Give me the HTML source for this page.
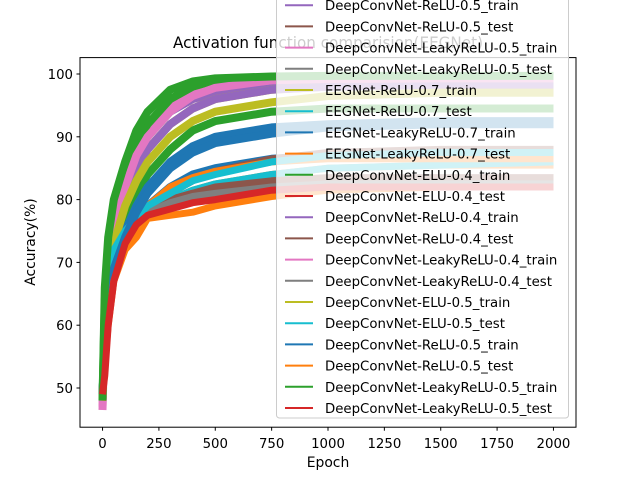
<!DOCTYPE html>
<html><head><meta charset="utf-8"><style>
html,body{margin:0;padding:0;background:#fff;}
svg{display:block;font-family:"DejaVu Sans","Liberation Sans",sans-serif;}
</style></head><body>
<svg id="chart" width="640" height="480" viewBox="0 0 640 480" xmlns="http://www.w3.org/2000/svg">
<defs><clipPath id="plotclip"><rect x="80" y="57.6" width="496" height="369.6"/></clipPath></defs>
<rect x="0" y="0" width="640" height="480" fill="#fff"/>
<text x="328" y="48" font-size="16" text-anchor="middle" textLength="310" lengthAdjust="spacingAndGlyphs">Activation function comparision(EEGNet)</text>
<g id="series" clip-path="url(#plotclip)"></g>
<rect x="80" y="57.6" width="496" height="369.6" fill="none" stroke="#000" stroke-width="1"/>
<g id="xaxis"></g>
<g id="yaxis"></g>
<text x="328" y="467" font-size="13.9" text-anchor="middle">Epoch</text>
<text x="0" y="0" font-size="13.9" text-anchor="middle" transform="translate(35,242) rotate(-90)">Accuracy(%)</text>
<g id="legend"></g>
</svg>
<script>
const epochs = [0,10,25,50,100,150,200,300,400,500,750,1000,1500,2000];
const seriesNames = ["EEGNet-ELU-0.7_train","EEGNet-ELU-0.7_test","EEGNet-ELU-0.5_train","EEGNet-ELU-0.5_test",
"DeepConvNet-ReLU-0.5_train","DeepConvNet-ReLU-0.5_test","DeepConvNet-LeakyReLU-0.5_train","DeepConvNet-LeakyReLU-0.5_test",
"EEGNet-ReLU-0.7_train","EEGNet-ReLU-0.7_test","EEGNet-LeakyReLU-0.7_train","EEGNet-LeakyReLU-0.7_test",
"DeepConvNet-ELU-0.4_train","DeepConvNet-ELU-0.4_test","DeepConvNet-ReLU-0.4_train","DeepConvNet-ReLU-0.4_test",
"DeepConvNet-LeakyReLU-0.4_train","DeepConvNet-LeakyReLU-0.4_test","DeepConvNet-ELU-0.5_train","DeepConvNet-ELU-0.5_test",
"DeepConvNet-ReLU-0.5_train","DeepConvNet-ReLU-0.5_test","DeepConvNet-LeakyReLU-0.5_train","DeepConvNet-LeakyReLU-0.5_test"];
const s0 = [49,58,66,70,74,77,79,82,84,85,86.5,87,87.5,87.5];
const s1 = [49,56,62,68,73,75,78,80,81.5,82.5,84,85,85.5,85.5];
const s2 = [48,60,67,72,77,81,84,88,91,92.5,94,94.5,94.5,94.5];
const s3 = [50,56,63,68,73,76,78,79.5,80.5,81,82,82.5,82.5,82.5];
const s4 = [48,60,70,76,82,87,90,94,96,97,98.5,99,99.1,99.1];
const s5 = [50,58,66,70,74,77,79,81,83,84.5,86.5,87.5,88,88];
const s6 = [47,62,70,76,83,88,91,95,97,98,99,99.3,99.4,99.4];
const s7 = [50,58,65,69,74,77,78.5,80,81,81.5,82.5,83,83,83];
const s8 = [48,61,70,75,81,85,88,92,94.5,96,97.5,98,98.2,98.2];
const s9 = [50,62,68,71,74,76,78,80,81.5,82.5,84,85,85.5,86];
const s10 = [49,58,65,70,75,79,82,86,88.5,90,91.5,92,92.5,92.5];
const s11 = [50,57,62,68,73,76,79,82,83.5,84.5,86,86.5,86.5,86.5];
const s12 = [48,64,72,77,84,89,92,96,98,99,99.5,99.6,99.6,99.6];
const s13 = [50,55,62,68,74,77,79,80,81,81.5,82.5,83,83,83];
const s14 = [48,59,68,74,80,85,88,92,94.5,96,97.5,98,98.3,98.3];
const s15 = [50,58,65,69,73,76,78,80,81,82,83,83.5,83.5,83.5];
const s16 = [46.5,60,69,75,82,87,90,94,96.5,97.8,99,99.2,99.3,99.3];
const s17 = [50,57,64,68,73,76,78,79.5,80.5,81,82,82.5,82.5,82.5];
const s18 = [48,60,68,73,79,83,86,90,92.5,94,95.5,96.5,97,97];
const s19 = [50,63,69,72,75,77,79,81,83,84,86,87,87.5,87.5];
const s20 = [49,57,64,69,74,78,81,85,87.5,89,90.5,91.5,92,92];
const s21 = [48,54,60,67,72,74,77,77.5,78,79,80.5,81.5,82,82];
const s22 = [48,66,74,80,86,91,94,97.5,98.8,99.3,99.6,99.7,99.7,99.7];
const s23 = [49,52,60,67,73,76,77.5,78.5,79.5,80,81.5,82,82,82];
const seriesValues = [s0,s1,s2,s3,s4,s5,s6,s7,s8,s9,s10,s11,s12,s13,s14,s15,s16,s17,s18,s19,s20,s21,s22,s23];
const xTicks = [0,250,500,750,1000,1250,1500,1750,2000];
const yTicks = [50,60,70,80,90,100];

const colors = ["#1f77b4","#ff7f0e","#2ca02c","#d62728","#9467bd","#8c564b","#e377c2","#7f7f7f","#bcbd22","#17becf"];
const NS = "http://www.w3.org/2000/svg";
function xs(e){ return 80 + 496*(e+100)/2200; }
function ys(v){ return 388 - (v-50)*6.28; }

const sg = document.getElementById('series');
seriesValues.forEach((vals, i) => {
  const p = document.createElementNS(NS,'polyline');
  p.setAttribute('points', vals.map((v,j)=>xs(epochs[j]).toFixed(1)+','+ys(v).toFixed(1)).join(' '));
  p.setAttribute('fill','none');
  p.setAttribute('stroke', colors[i%10]);
  p.setAttribute('stroke-width', seriesNames[i].endsWith('train') ? 8 : 7);
  p.setAttribute('stroke-linejoin','round');
  
  
  sg.appendChild(p);
});

const xg = document.getElementById('xaxis');
xTicks.forEach(t => {
  const l = document.createElementNS(NS,'line');
  l.setAttribute('x1', xs(t)); l.setAttribute('x2', xs(t));
  l.setAttribute('y1', 427.2); l.setAttribute('y2', 430.7);
  l.setAttribute('stroke','#000');
  
  
  xg.appendChild(l);
  const tx = document.createElementNS(NS,'text');
  tx.setAttribute('x', xs(t)); tx.setAttribute('y', 448);
  tx.setAttribute('font-size','13.3'); tx.setAttribute('text-anchor','middle');
  tx.textContent = t;
  
  
  xg.appendChild(tx);
});
const yg = document.getElementById('yaxis');
yTicks.forEach(t => {
  const l = document.createElementNS(NS,'line');
  l.setAttribute('x1', 76.5); l.setAttribute('x2', 80);
  l.setAttribute('y1', ys(t)); l.setAttribute('y2', ys(t));
  l.setAttribute('stroke','#000');
  
  
  yg.appendChild(l);
  const tx = document.createElementNS(NS,'text');
  tx.setAttribute('x', 73); tx.setAttribute('y', ys(t)+5);
  tx.setAttribute('font-size','13.3'); tx.setAttribute('text-anchor','end');
  tx.textContent = t;
  
  
  yg.appendChild(tx);
});

const lg = document.getElementById('legend');
const rowH = 21.2, lastY = 408, n = seriesNames.length;
const firstY = lastY - rowH*(n-1);
const box = document.createElementNS(NS,'rect');
box.setAttribute('x', 276.5); box.setAttribute('y', firstY - 14);
box.setAttribute('width', 292); box.setAttribute('height', lastY + 10 - (firstY - 14));
box.setAttribute('rx', 3);
box.setAttribute('fill','rgba(255,255,255,0.8)'); box.setAttribute('stroke','#cccccc');


lg.appendChild(box);
seriesNames.forEach((name,i) => {
  const y = firstY + i*rowH;
  const l = document.createElementNS(NS,'line');
  l.setAttribute('x1', 285); l.setAttribute('x2', 313);
  l.setAttribute('y1', y); l.setAttribute('y2', y);
  l.setAttribute('stroke', colors[i%10]); l.setAttribute('stroke-width', 2);
  
  
  lg.appendChild(l);
  const tx = document.createElementNS(NS,'text');
  tx.setAttribute('x', 325); tx.setAttribute('y', y+5);
  tx.setAttribute('font-size','13.3');
  tx.textContent = name;
  
  
  lg.appendChild(tx);
});
</script>
</body></html>
